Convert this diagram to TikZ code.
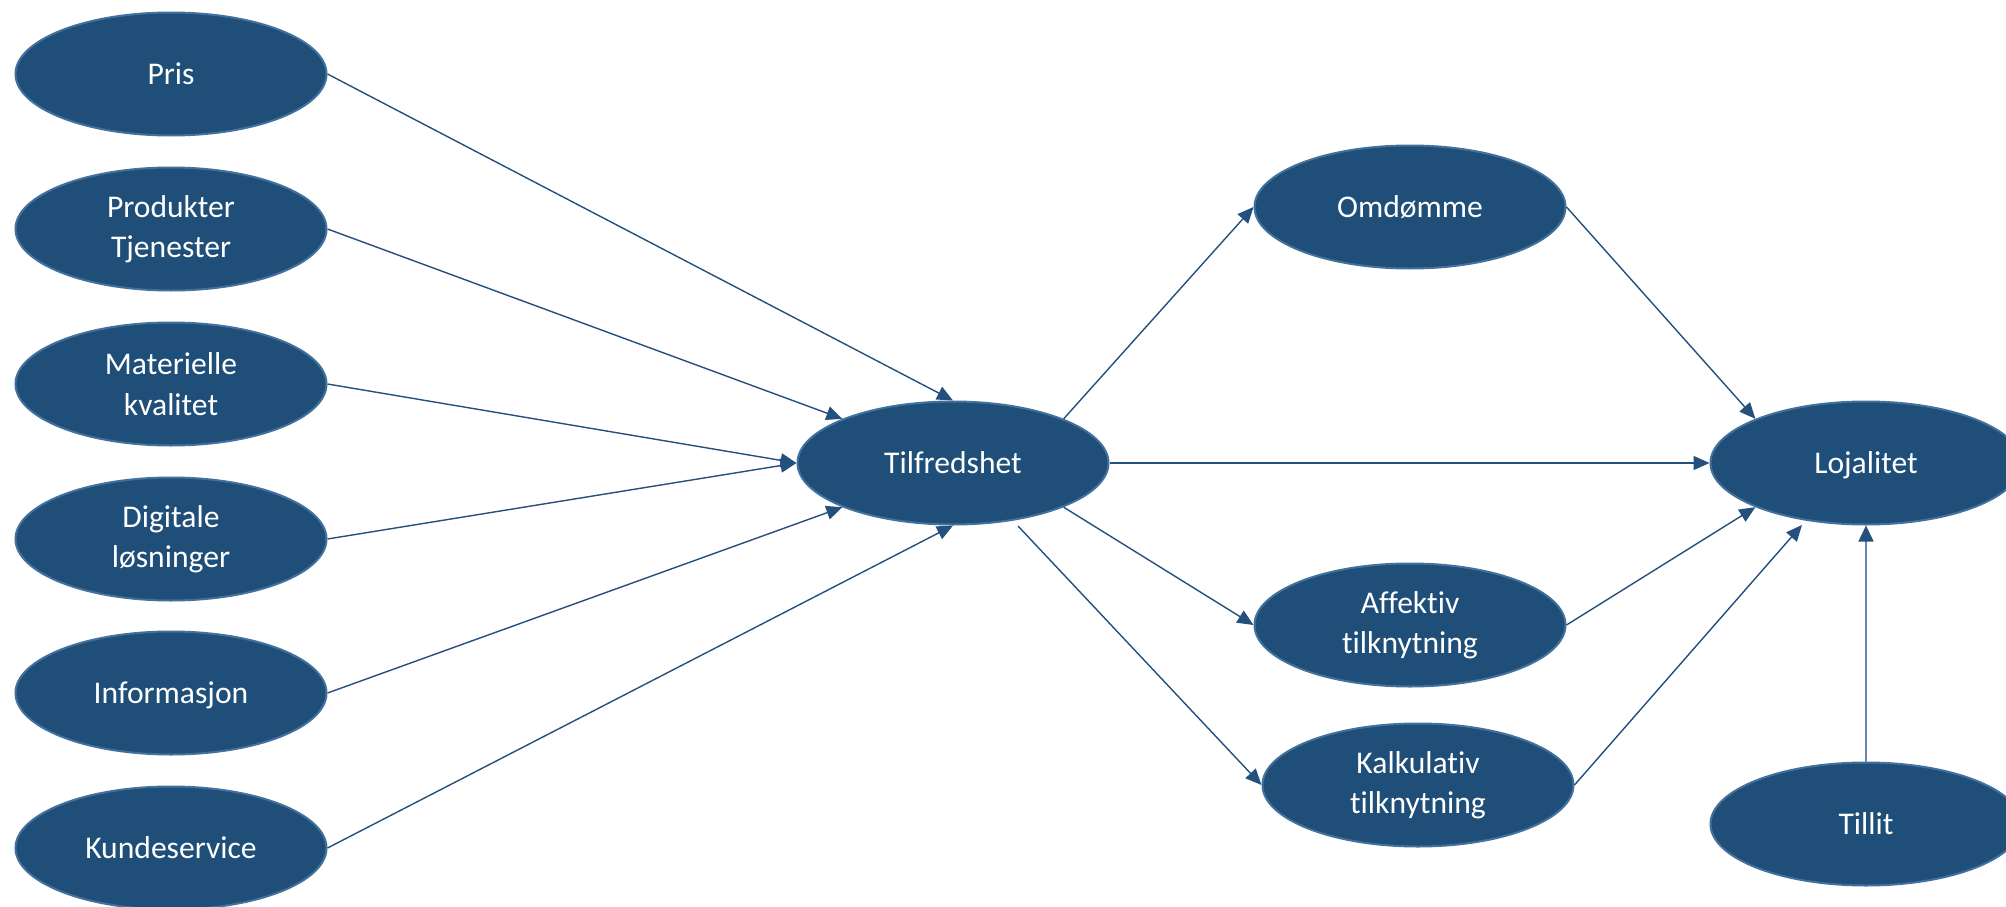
\documentclass[tikz,border=0pt]{standalone}
\usepackage{fontspec}
\setmainfont{Carlito}[Ligatures=NoCommon]
\usetikzlibrary{arrows.meta,calc,shapes.geometric}
\definecolor{fillblue}{RGB}{31,78,121}
\definecolor{edgeblue}{RGB}{65,113,156}
\definecolor{lineblue}{RGB}{37,80,125}
\definecolor{paleblue}{RGB}{100,135,170}
\begin{document}
\begin{tikzpicture}[x=1pt,y=-1pt,
  oval/.style={ellipse, fill=fillblue, draw=edgeblue, line width=2pt,
    minimum width=311pt, minimum height=123pt, inner sep=0pt,
    text=white, align=center, font=\fontsize{31.6}{40.5}\selectfont},
  flat/.style={text depth=0pt},
  link/.style={draw=lineblue, line width=1.4pt,
    -{Triangle[length=16pt,width=14pt,color=lineblue]}},
  palelink/.style={draw=paleblue, line width=1.6pt,
    -{Triangle[length=16pt,width=15pt,color=lineblue]}}]
\useasboundingbox (0,0) rectangle (2006,907);
\fill[white] (0,0) rectangle (2006,907);

\node[oval] (pris)  at (171,74)  {Pris};
\node[oval] (prod)  at (171,229) {Produkter\\Tjenester};
\node[oval] (mat)   at (171,384) {Materielle\\kvalitet};
\node[oval] (dig)   at (171,539) {Digitale\\løsninger};
\node[oval,flat] (info)  at (171,693) {Informasjon};
\node[oval] (kunde) at (171,848) {Kundeservice};

\node[oval] (tilf) at (953,463)  {Tilfredshet};
\node[oval] (omd)  at (1410,207) {Omdømme};
\node[oval] (aff)  at (1410,625) {Affektiv\\tilknytning};
\node[oval] (kalk) at (1418,785) {Kalkulativ\\tilknytning};
\node[oval,flat] (loj)  at (1866,463) {Lojalitet};
\node[oval] (till) at (1866,824) {Tillit};

\coordinate (tilfout) at (1018,526);
\coordinate (lojin) at (1802,525);

\draw[link] (pris.east)  -- (tilf.north);
\draw[link] (prod.east)  -- (tilf.north west);
\draw[link] (mat.east)   -- (tilf.west);
\draw[link] (dig.east)   -- (tilf.west);
\draw[link] (info.east)  -- (tilf.south west);
\draw[link] (kunde.east) -- (tilf.south);

\draw[link] (tilf.north east) -- (omd.west);
\draw[link] (tilf.east) -- (loj.west);
\draw[link] (tilf.south east) -- (aff.west);
\draw[link] (tilfout) -- (kalk.west);

\draw[link] (omd.east) -- (loj.north west);
\draw[link] (aff.east) -- (loj.south west);
\draw[link] (kalk.east) -- (lojin);
\draw[palelink] (till.north) -- (loj.south);
\end{tikzpicture}
\end{document}
